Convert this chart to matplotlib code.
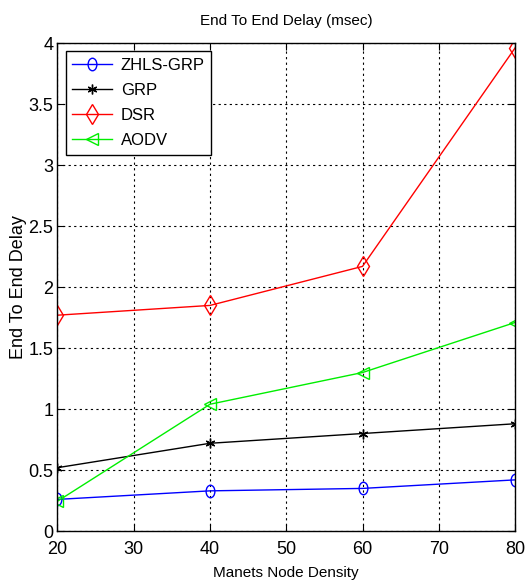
import matplotlib
matplotlib.use('Agg')
import matplotlib.pyplot as plt
from matplotlib.path import Path
from matplotlib.transforms import Affine2D

plt.rcParams['font.family'] = ['Liberation Sans', 'DejaVu Sans']

density = [20, 40, 60, 80]
zhls_grp = [0.26, 0.33, 0.35, 0.42]
grp = [0.52, 0.72, 0.80, 0.88]
dsr = [1.77, 1.85, 2.17, 3.96]
aodv = [0.245, 1.04, 1.30, 1.71]

# narrow ellipse like the stretched matlab circle
ellipse = Path.unit_circle().transformed(Affine2D().scale(0.7, 1.0))

fig = plt.figure(figsize=(5.25, 5.83), dpi=100)
ax = fig.add_axes([0.1095, 0.089, 0.8715, 0.837])

ax.plot(density, zhls_grp, color='blue', marker=ellipse, mfc='none', ms=9, lw=1, label='ZHLS-GRP')
ax.plot(density, grp, color='black', marker=(6, 2, 0), ms=7, mew=1, lw=1, label='GRP')
ax.plot(density, dsr, color='red', marker='d', mfc='none', ms=10, lw=1, label='DSR')
ax.plot(density, aodv, color='#00ee00', marker='<', mfc='none', ms=9, lw=1, label='AODV')

ax.set_xlim(20, 80)
ax.set_ylim(0, 4)
ax.set_xticks([20, 30, 40, 50, 60, 70, 80])
ax.set_yticks([0, 0.5, 1, 1.5, 2, 2.5, 3, 3.5, 4])
ax.set_yticklabels(['0', '0.5', '1', '1.5', '2', '2.5', '3', '3.5', '4'])
ax.tick_params(direction='in', top=True, right=True, labelsize=13, length=5)
ax.tick_params(axis='x', pad=7)
ax.tick_params(axis='y', pad=3)
ax.grid(True, color='black', linestyle=(0, (2, 3)), linewidth=0.8)
for s in ax.spines.values():
    s.set_linewidth(1)

ax.set_title('End To End Delay (msec)', fontsize=11, pad=13)
ax.set_xlabel('Manets Node Density', fontsize=11, labelpad=6)
ax.set_ylabel('End To End Delay', fontsize=13)
ax.yaxis.set_label_coords(-0.066, 0.5)

leg = ax.legend(loc='upper left', fontsize=12, fancybox=False, edgecolor='black',
                framealpha=1, borderaxespad=0.5, handlelength=2.4, handletextpad=0.5,
                labelspacing=0.6)
leg.get_frame().set_linewidth(1)

fig.savefig('out.png', dpi=100)
